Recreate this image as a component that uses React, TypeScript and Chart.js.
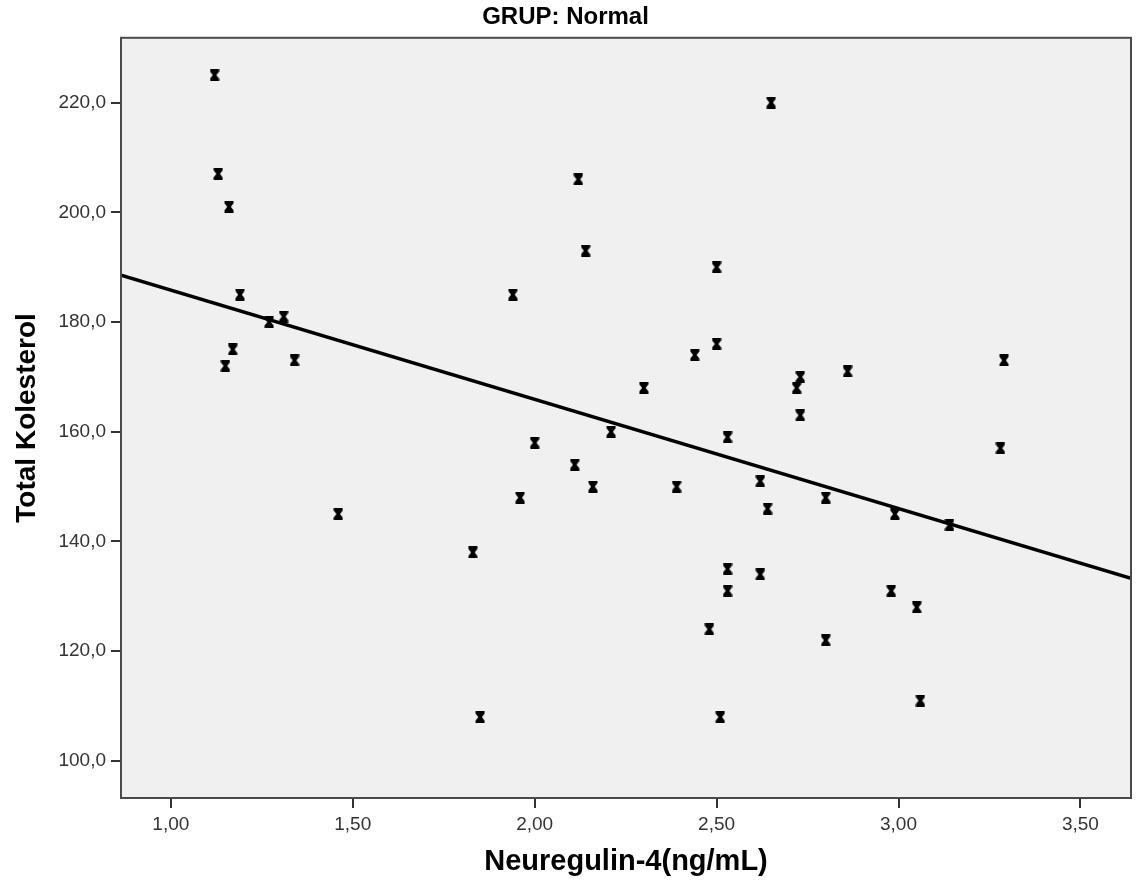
import React, { useEffect, useRef } from "react";
import { Chart, registerables } from "chart.js";

Chart.register(...registerables);

// Data (Neuregulin-4 ng/mL vs Total Kolesterol)
const neuregulin = [
  1.12, 1.13, 1.16, 1.19, 1.17, 1.15, 1.27, 1.31, 1.34, 1.46,
  1.83, 1.85, 1.94, 1.96, 2.0, 2.11, 2.12, 2.14, 2.16, 2.21,
  2.3, 2.39, 2.44, 2.48, 2.5, 2.5, 2.51, 2.53, 2.53, 2.53,
  2.62, 2.62, 2.64, 2.65, 2.73, 2.72, 2.73, 2.8, 2.8, 2.86,
  2.98, 2.99, 3.05, 3.06, 3.14, 3.29, 3.28,
];
const kolesterol = [
  225, 207, 201, 185, 175, 172, 180, 181, 173, 145,
  138, 108, 185, 148, 158, 154, 206, 193, 150, 160,
  168, 150, 174, 124, 190, 176, 108, 159, 135, 131,
  151, 134, 146, 220, 170, 168, 163, 148, 122, 171,
  131, 145, 128, 111, 143, 173, 157,
];
const xTicks = [1.0, 1.5, 2.0, 2.5, 3.0, 3.5];
const yTicks = [100, 120, 140, 160, 180, 200, 220];
const xRange = [0.863, 3.639];
const yRange = [93.25, 231.8];
const fitIntercept = 205.7;
const fitSlope = -19.9;

const chartTitle = "GRUP: Normal";
const xTitle = "Neuregulin-4(ng/mL)";
const yTitle = "Total Kolesterol";

const FONT = "'Liberation Sans', Arial, sans-serif";

function makeMarker(): HTMLCanvasElement {
  const c = document.createElement("canvas");
  const w = 10;
  const h = 12;
  c.width = w;
  c.height = h;
  const g = c.getContext("2d")!;
  g.fillStyle = "#000";
  g.beginPath();
  g.moveTo(0.5, 0);
  g.lineTo(w - 0.5, 0);
  g.lineTo(w - 0.5, 2.5);
  g.lineTo(w / 2 + 1.8, h / 2);
  g.lineTo(w - 0.5, h - 2.5);
  g.lineTo(w - 0.5, h);
  g.lineTo(0.5, h);
  g.lineTo(0.5, h - 2.5);
  g.lineTo(w / 2 - 1.8, h / 2);
  g.lineTo(0.5, 2.5);
  g.closePath();
  g.fill();
  return c;
}

const frame = {
  id: "frame",
  beforeDraw(chart: any) {
    const { ctx, chartArea: a } = chart;
    ctx.save();
    ctx.fillStyle = "#f0f0f0";
    ctx.fillRect(a.left, a.top, a.right - a.left, a.bottom - a.top);
    ctx.restore();
  },
  afterDraw(chart: any) {
    const { ctx, chartArea: a } = chart;
    ctx.save();
    ctx.strokeStyle = "#4a4a4a";
    ctx.lineWidth = 2;
    ctx.strokeRect(a.left, a.top, a.right - a.left, a.bottom - a.top);
    ctx.restore();
  },
};

export default function App() {
  const ref = useRef<HTMLCanvasElement>(null);

  useEffect(() => {
    if (!ref.current) return;
    const marker = makeMarker();
    const points = neuregulin.map((x, i) => ({ x, y: kolesterol[i] }));
    const fitLine = xRange.map((x) => ({ x, y: fitIntercept + fitSlope * x }));
    const tickFont = { family: FONT, size: 19 };
    const chart = new Chart(ref.current, {
      type: "scatter",
      data: {
        datasets: [
          {
            type: "line",
            data: fitLine,
            borderColor: "#000",
            borderWidth: 3.5,
            pointRadius: 0,
            fill: false,
          } as any,
          {
            type: "scatter",
            data: points,
            pointStyle: marker,
            pointRadius: 6,
            backgroundColor: "#000",
            borderColor: "#000",
          } as any,
        ],
      },
      options: {
        responsive: false,
        animation: false,
        layout: { padding: { left: 0, right: 15, top: 0, bottom: 0 } },
        plugins: {
          legend: { display: false },
          tooltip: { enabled: false },
          title: {
            display: true,
            text: chartTitle,
            color: "#000",
            font: { family: FONT, size: 24, weight: "bold" },
            padding: { top: 3, bottom: 6 },
          },
        },
        scales: {
          x: {
            type: "linear",
            min: xRange[0],
            max: xRange[1],
            afterBuildTicks: (s: any) => {
              s.ticks = xTicks.map((v) => ({ value: v }));
            },
            afterFit: (s: any) => {
              s.height = 90;
            },
            ticks: {
              color: "#333",
              font: tickFont,
              padding: 5,
              maxRotation: 0,
              callback: (v: any) => Number(v).toFixed(2).replace(".", ","),
            },
            grid: { drawOnChartArea: false, drawTicks: true, tickLength: 10, color: "#333", lineWidth: 2 },
            border: { display: false },
            title: {
              display: true,
              text: xTitle,
              color: "#000",
              font: { family: FONT, size: 29, weight: "bold" },
              padding: 9,
            },
          },
          y: {
            type: "linear",
            min: yRange[0],
            max: yRange[1],
            afterBuildTicks: (s: any) => {
              s.ticks = yTicks.map((v) => ({ value: v }));
            },
            afterFit: (s: any) => {
              s.width = 121;
            },
            ticks: {
              color: "#333",
              font: tickFont,
              padding: 5,
              callback: (v: any) => Number(v).toFixed(1).replace(".", ","),
            },
            grid: { drawOnChartArea: false, drawTicks: true, tickLength: 10, color: "#333", lineWidth: 2 },
            border: { display: false },
            title: {
              display: true,
              text: yTitle,
              color: "#000",
              font: { family: FONT, size: 28, weight: "bold" },
              padding: 10,
            },
          },
        },
      },
      plugins: [frame],
    });
    return () => chart.destroy();
  }, []);

  return (
    <div style={{ position: "absolute", left: 0, top: 0, width: 1146, height: 888, background: "#fff" }}>
      <canvas ref={ref} width={1146} height={888} style={{ display: "block" }} />
    </div>
  );
}
